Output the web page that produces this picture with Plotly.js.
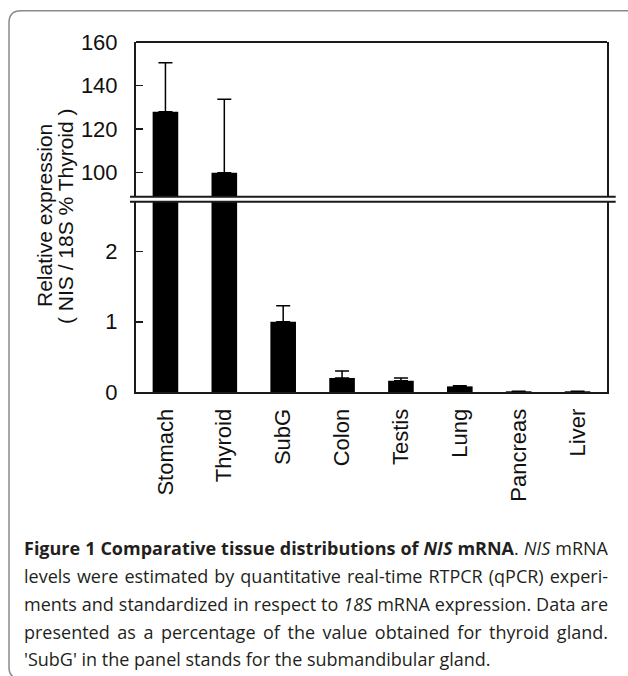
<!DOCTYPE html>
<html>
<head>
<meta charset="utf-8">
<script src="https://cdn.plot.ly/plotly-3.0.1.min.js"></script>
<style>html,body{margin:0;padding:0;background:#fff;}#chart{width:628px;height:676px;}</style>
</head>
<body>
<div id="chart"></div>
<script>
// ---- data ----
const categories = ['Stomach', 'Thyroid', 'SubG', 'Colon', 'Testis', 'Lung', 'Pancreas', 'Liver'];
const values = [128, 100, 1.0, 0.2, 0.16, 0.08, 0.01, 0.01];
const errorsUp = [22.5, 33.7, 0.23, 0.10, 0.04, 0.01, 0, 0];
const errorsDown = [0, 0, 0, 0, 0, 0, 0, 0];
const upperTicks = [100, 120, 140, 160];
const lowerTicks = [0, 1, 2];
const yTitleLines = ['Relative expression', '( NIS / 18S % Thyroid )'];
const captionLines = [
  '<b>Figure 1 Comparative tissue distributions of <i>NIS</i> mRNA</b>. <i>NIS</i> mRNA',
  'levels were estimated by quantitative real-time RTPCR (qPCR) experi-',
  'ments and standardized in respect to <i>18S</i> mRNA expression. Data are',
  'presented as a percentage of the value obtained for thyroid gland.',
  "'SubG' in the panel stands for the submandibular gland."
];

// ---- layout geometry ----
const W = 628, H = 676;
const mL = 136, mR = 21, mT = 42, mB = 284;
const pw = W - mL - mR, ph = H - mT - mB;
const px2x = p => (p - mL) / pw;
const py2y = p => (H - mB - p) / ph;
const topDomain = [py2y(196.7), 1];
const botDomain = [0, py2y(201.7)];
const lineCol = '#1a1a1a';
const tickFont = {family: 'Liberation Sans, Arial, sans-serif', size: 22, color: '#111'};
const capLeft = 22, capWidth = 584;

const errStyle = () => ({type: 'data', symmetric: false, array: errorsUp, arrayminus: errorsDown,
  color: '#000', thickness: 1.5, width: 7, visible: true});

const traces = [
  {type: 'bar', x: categories, y: values, xaxis: 'x', yaxis: 'y',
   marker: {color: '#000', line: {width: 0}}, error_y: errStyle(), hoverinfo: 'skip'},
  {type: 'bar', x: categories, y: values, xaxis: 'x', yaxis: 'y2',
   marker: {color: '#000', line: {width: 0}}, error_y: errStyle(), hoverinfo: 'skip'}
];

const shapes = [
  {type: 'line', xref: 'paper', yref: 'paper', x0: 0, x1: 1, y0: 1, y1: 1,
   line: {color: lineCol, width: 2}},
  {type: 'line', xref: 'paper', yref: 'paper', x0: px2x(130), x1: px2x(615.7),
   y0: topDomain[0], y1: topDomain[0], line: {color: lineCol, width: 2}, layer: 'above'},
  {type: 'line', xref: 'paper', yref: 'paper', x0: px2x(130), x1: px2x(615.7),
   y0: botDomain[1], y1: botDomain[1], line: {color: lineCol, width: 2}, layer: 'above'},
  {type: 'path', xref: 'paper', yref: 'paper', layer: 'below',
   path: 'M ' + px2x(660) + ',' + py2y(10.7) +
         ' L ' + px2x(21) + ',' + py2y(10.7) +
         ' Q ' + px2x(9) + ',' + py2y(10.7) + ' ' + px2x(9) + ',' + py2y(22.7) +
         ' L ' + px2x(9) + ',' + py2y(667) +
         ' Q ' + px2x(9) + ',' + py2y(679) + ' ' + px2x(21) + ',' + py2y(679) +
         ' L ' + px2x(660) + ',' + py2y(679),
   line: {color: '#8a8a8a', width: 1.5}}
];

const annotations = [];
const yTitleX = [44, 65];
yTitleLines.forEach((t, i) => annotations.push({
  text: t, xref: 'paper', yref: 'paper', x: px2x(yTitleX[i]), y: py2y(216),
  xanchor: 'center', yanchor: 'middle', textangle: -90, showarrow: false,
  font: {family: 'Liberation Sans, Arial, sans-serif', size: 21, color: '#111'}
}));
const capY = [548, 576, 604, 632, 659];
captionLines.forEach((t, i) => annotations.push({
  text: t, xref: 'paper', yref: 'paper', x: px2x(capLeft), y: py2y(capY[i]),
  xanchor: 'left', yanchor: 'middle', showarrow: false, align: 'left',
  font: {family: 'Open Sans, Noto Sans, sans-serif', size: 18, color: '#231f20'}
}));

const layout = {
  width: W, height: H,
  margin: {l: mL, r: mR, t: mT, b: mB, pad: 0},
  paper_bgcolor: '#fff', plot_bgcolor: '#fff',
  showlegend: false,
  bargap: 0.565,
  xaxis: {anchor: 'y', domain: [0, 1], showline: true, linecolor: lineCol, linewidth: 2,
    ticks: '', tickangle: -90, tickfont: tickFont, showgrid: false, zeroline: false,
    ticklabelstandoff: 6, fixedrange: true},
  yaxis: {anchor: 'x', domain: botDomain, range: [0, 2.71], tickvals: lowerTicks,
    ticks: 'inside', ticklen: 7, tickwidth: 1.5, tickcolor: lineCol,
    showline: true, mirror: true, linecolor: lineCol, linewidth: 2,
    showgrid: false, zeroline: false, tickfont: tickFont, ticklabelstandoff: 12, fixedrange: true},
  yaxis2: {anchor: 'x', domain: topDomain, range: [89, 160], tickvals: upperTicks,
    ticks: 'inside', ticklen: 7, tickwidth: 1.5, tickcolor: lineCol,
    showline: true, mirror: true, linecolor: lineCol, linewidth: 2,
    showgrid: false, zeroline: false, tickfont: tickFont, ticklabelstandoff: 12, fixedrange: true},
  shapes: shapes,
  annotations: annotations
};

Plotly.newPlot('chart', traces, layout, {displayModeBar: false, staticPlot: true}).then(gd => {
  // justify the caption lines (all but the last) like the printed figure
  try {
    const texts = gd.querySelectorAll('.annotation-text');
    const nTitle = yTitleLines.length;
    for (let i = 0; i < captionLines.length - 1; i++) {
      const el = texts[nTitle + i];
      if (!el) continue;
      const len = el.getComputedTextLength();
      const spaces = (el.textContent.match(/ /g) || []).length;
      if (spaces > 0) {
        const extra = (capWidth - len) / spaces;
        el.style.wordSpacing = extra.toFixed(2) + 'px';
        el.querySelectorAll('tspan').forEach(s => { s.style.wordSpacing = extra.toFixed(2) + 'px'; });
      }
    }
  } catch (e) { /* leave unjustified */ }
});
</script>
</body>
</html>
